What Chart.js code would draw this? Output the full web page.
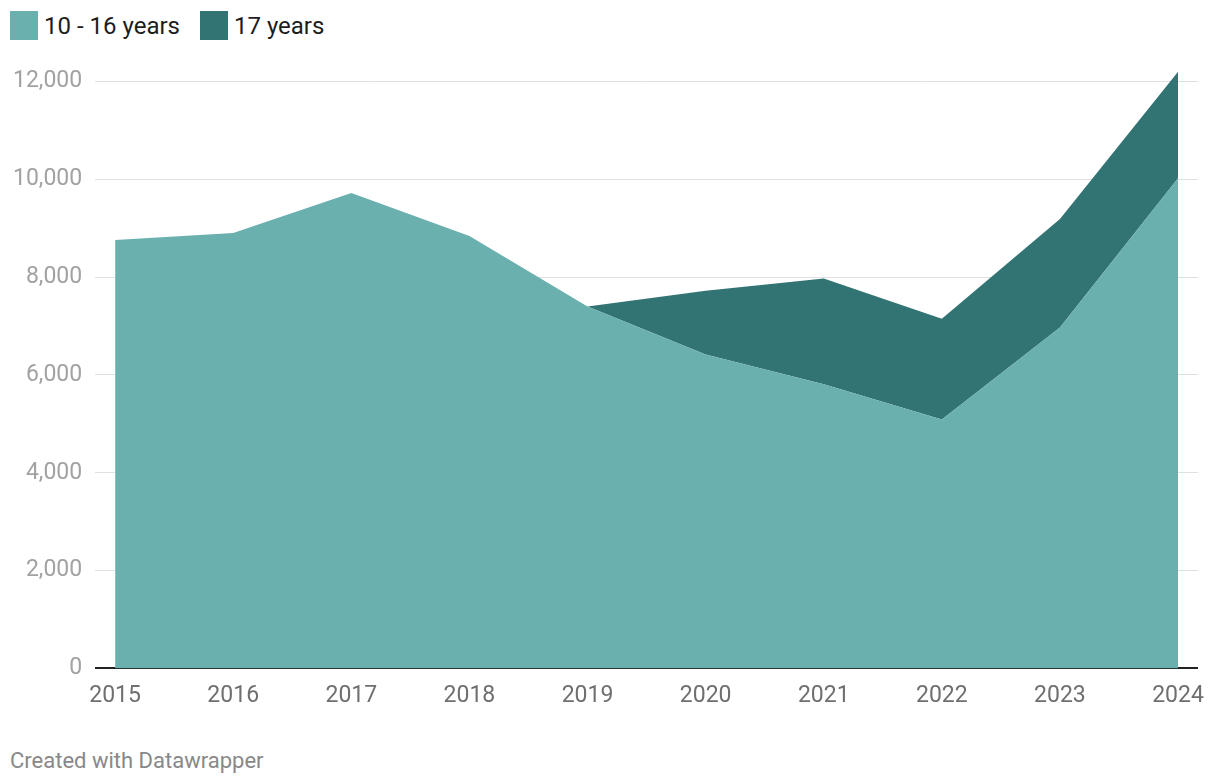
<!DOCTYPE html>
<html lang="en">
<head>
<meta charset="UTF-8">
<title>10 - 16 years / 17 years</title>
<script src="https://cdn.jsdelivr.net/npm/chart.js"></script>
<style>
  body { margin: 0; background: #fff; font-family: Roboto, 'Noto Sans', sans-serif; }
  .legend { position: absolute; top: 11px; left: 10px; display: flex; align-items: center; font-size: 24px; color: #1d1d1d; }
  .legend span.box { display: inline-block; width: 28px; height: 29px; margin-right: 6px; }
  .legend .item { display: flex; align-items: center; margin-right: 20px; }
  .wrap { position: absolute; top: 40px; left: 0; width: 1220px; height: 676px; }
  .footer { position: absolute; top: 748px; left: 10px; font-size: 22px; color: #888; }
</style>
</head>
<body>
  <div class="legend">
    <div class="item"><span class="box" style="background:#69b0af"></span>10 - 16 years</div>
    <div class="item"><span class="box" style="background:#327474"></span>17 years</div>
  </div>
  <div class="wrap"><canvas id="chart"></canvas></div>
  <div class="footer">Created with Datawrapper</div>

<script>
const years = [2015, 2016, 2017, 2018, 2019, 2020, 2021, 2022, 2023, 2024];
const age10to16 = [8760, 8900, 9720, 8840, 7400, 6420, 5810, 5090, 6970, 10020];
const age17 = [0, 0, 0, 0, 0, 1300, 2160, 2060, 2220, 2180];
const yTicks = [0, 2000, 4000, 6000, 8000, 10000, 12000];

const pts = arr => arr.map((v, i) => ({ x: years[i], y: v }));

new Chart(document.getElementById("chart"), {
  type: "line",
  data: {
    datasets: [
      { label: "10 - 16 years", data: pts(age10to16), backgroundColor: "#69b0af",
        borderWidth: 0, pointRadius: 0, fill: "origin", tension: 0 },
      { label: "17 years", data: pts(age17), backgroundColor: "#327474",
        borderWidth: 0, pointRadius: 0, fill: "-1", tension: 0 }
    ]
  },
  options: {
    responsive: true,
    maintainAspectRatio: false,
    animation: false,
    layout: { padding: { left: 0, right: 22, top: 17, bottom: 0 } },
    plugins: { legend: { display: false }, tooltip: { enabled: false } },
    scales: {
      x: {
        type: "linear",
        min: 2014.831, max: 2024.169,
        afterBuildTicks: s => { s.ticks = years.map(v => ({ value: v })); },
        grid: { display: false },
        border: { display: false },
        ticks: { color: "#6f6f6f", font: { family: "Roboto", size: 23 }, padding: 6, maxRotation: 0,
                 callback: v => String(v) }
      },
      y: {
        stacked: true,
        min: 0, max: 12300,
        afterBuildTicks: s => { s.ticks = yTicks.map(v => ({ value: v })); },
        grid: { color: c => c.tick && c.tick.value === 0 ? "#222" : "#e0e0e0",
                lineWidth: c => c.tick && c.tick.value === 0 ? 2 : 1, drawTicks: false },
        border: { display: false },
        ticks: { color: "#a2a2a2", font: { family: "Roboto", size: 23 }, padding: 13,
                 callback: v => v.toLocaleString("en-US") }
      }
    }
  }
});
</script>
</body>
</html>
